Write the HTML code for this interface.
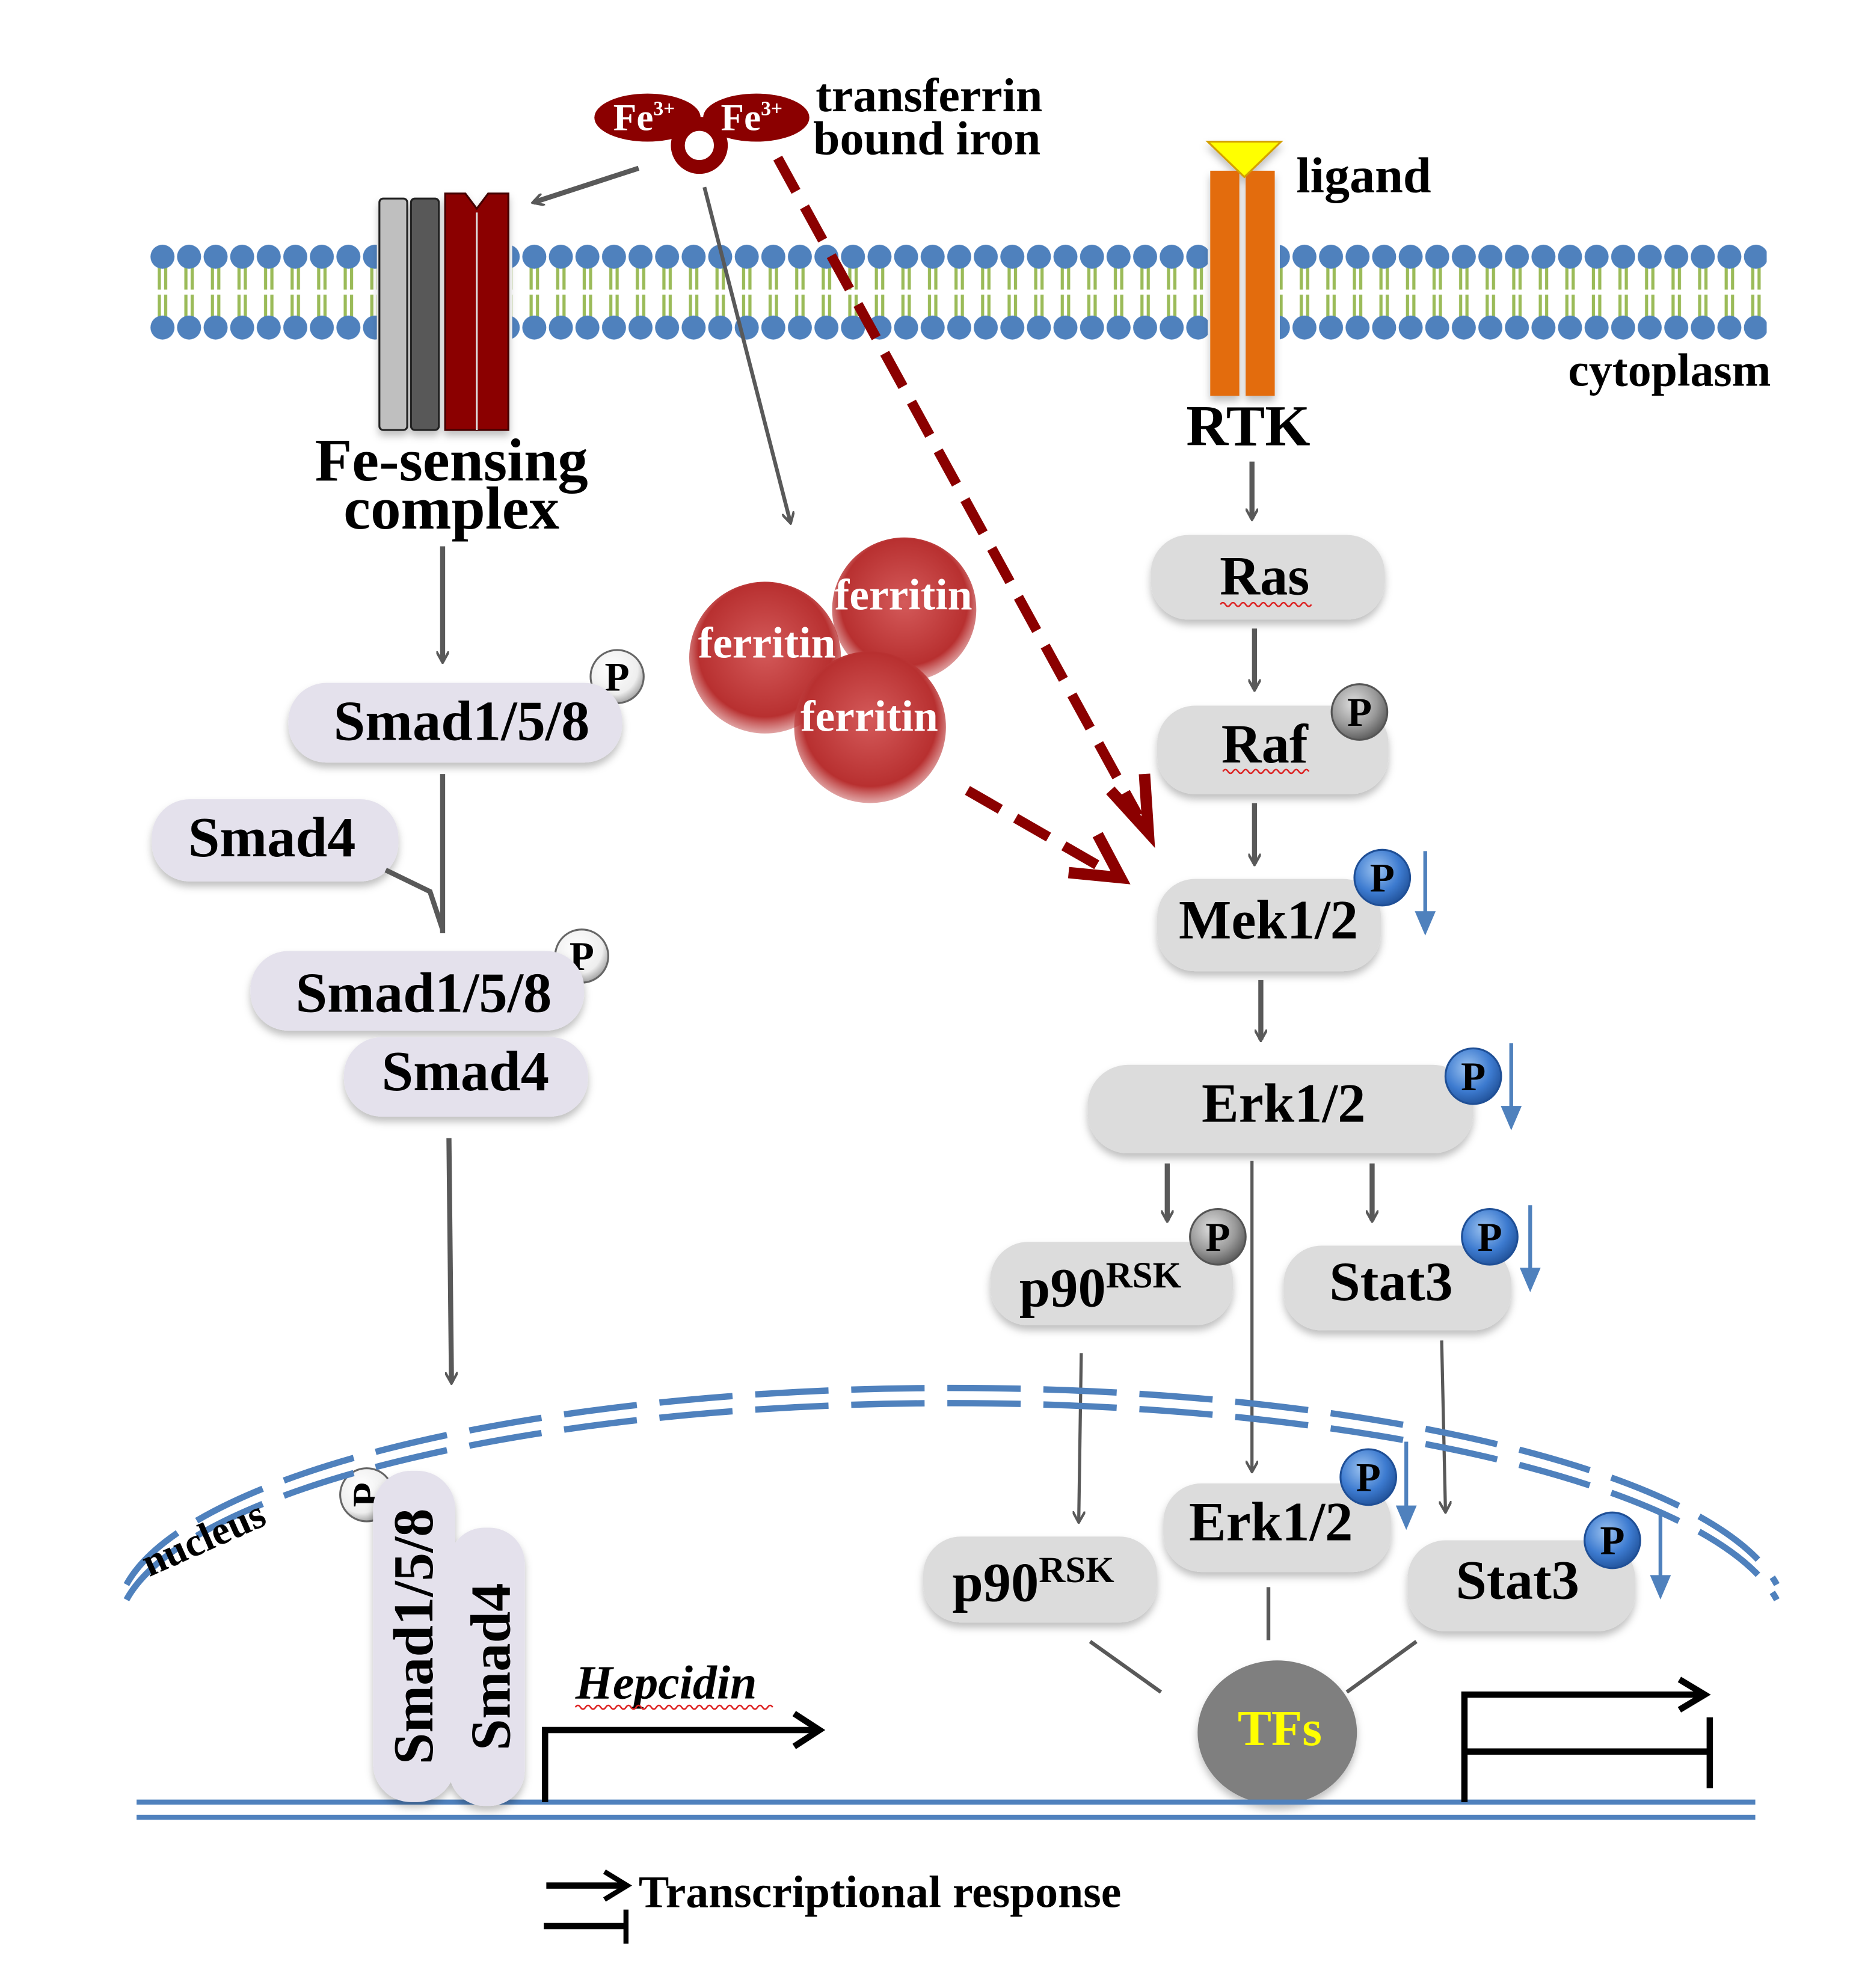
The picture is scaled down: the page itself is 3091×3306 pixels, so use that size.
<!DOCTYPE html>
<html><head><meta charset="utf-8"><style>
html,body{margin:0;padding:0;background:#fff;}
svg{display:block;}
text{font-family:"Liberation Serif",serif;font-weight:bold;}
</style></head><body>
<svg width="3091" height="3306" viewBox="0 0 1470 1572" preserveAspectRatio="none" xmlns="http://www.w3.org/2000/svg">
<defs>
<pattern id="mem" x="118" y="193" width="21" height="76" patternUnits="userSpaceOnUse">
<line x1="8" y1="18" x2="8" y2="36" stroke="#9bbb59" stroke-width="2.5"/>
<line x1="13" y1="18" x2="13" y2="36" stroke="#9bbb59" stroke-width="2.5"/>
<line x1="8" y1="40" x2="8" y2="58" stroke="#9bbb59" stroke-width="2.5"/>
<line x1="13" y1="40" x2="13" y2="58" stroke="#9bbb59" stroke-width="2.5"/>
<circle cx="10.5" cy="10" r="9.5" fill="#4f81bd"/>
<circle cx="10.5" cy="66" r="9.5" fill="#4f81bd"/>
</pattern>
<radialGradient id="pb" cx="0.4" cy="0.35" r="0.7"><stop offset="0" stop-color="#9cc3f0"/><stop offset="0.6" stop-color="#3d7bd0"/><stop offset="1" stop-color="#1f4f96"/></radialGradient>
<radialGradient id="pg" cx="0.4" cy="0.35" r="0.7"><stop offset="0" stop-color="#e0e0e0"/><stop offset="0.6" stop-color="#999"/><stop offset="1" stop-color="#555"/></radialGradient>
<radialGradient id="pw" cx="0.4" cy="0.35" r="0.7"><stop offset="0" stop-color="#fff"/><stop offset="0.7" stop-color="#eee"/><stop offset="1" stop-color="#999"/></radialGradient>
<radialGradient id="fer" cx="0.5" cy="0.45" r="0.55"><stop offset="0" stop-color="#d45a5a"/><stop offset="0.8" stop-color="#b83030"/><stop offset="1" stop-color="#c24a4a" stop-opacity="0.5"/></radialGradient>
<filter id="sh" x="-20%" y="-20%" width="140%" height="150%"><feDropShadow dx="0" dy="4" stdDeviation="3" flood-color="#000" flood-opacity="0.25"/></filter>
<marker id="ag" markerWidth="10" markerHeight="10" refX="8" refY="5" orient="auto" markerUnits="userSpaceOnUse" viewBox="0 0 10 10"><path d="M0,0 L9,5 L0,10" fill="none" stroke="#595959" stroke-width="2"/></marker>
</defs>

<rect x="118" y="193" width="180" height="76" fill="url(#mem)"/>
<rect x="405" y="193" width="550" height="76" fill="url(#mem)"/>
<rect x="1012" y="193" width="385" height="76" fill="url(#mem)"/>

<g filter="url(#sh)">
<rect x="300" y="157" width="22" height="183" rx="3" fill="#bfbfbf" stroke="#222" stroke-width="1.5"/>
<rect x="325" y="157" width="22" height="183" rx="3" fill="#595959" stroke="#222" stroke-width="1.5"/>
<path d="M352,153 L368,153 L377,165 L386,153 L402,153 L402,340 L352,340 Z" fill="#8b0000" stroke="#400" stroke-width="1.5"/>
<line x1="377" y1="168" x2="377" y2="340" stroke="#ddd" stroke-width="1.5"/>
</g>
<text x="357" y="380" font-size="48" text-anchor="middle">Fe-sensing</text>
<text x="357" y="418" font-size="48" text-anchor="middle">complex</text>

<circle cx="553" cy="115" r="17" fill="none" stroke="#8b0000" stroke-width="11"/>
<ellipse cx="512" cy="93" rx="42" ry="19" fill="#8b0000"/>
<ellipse cx="598" cy="93" rx="42" ry="19" fill="#8b0000"/>
<text x="485" y="103" font-size="30" fill="#fff" font-weight="normal">Fe<tspan font-size="16" dy="-12">3+</tspan></text>
<text x="570" y="103" font-size="30" fill="#fff" font-weight="normal">Fe<tspan font-size="16" dy="-12">3+</tspan></text>
<text x="645" y="88" font-size="38">transferrin</text>
<text x="643" y="122" font-size="38">bound iron</text>

<line x1="505" y1="133" x2="422" y2="160" stroke="#595959" stroke-width="4" marker-end="url(#ag)"/>
<line x1="557" y1="148" x2="625" y2="413" stroke="#595959" stroke-width="3" marker-end="url(#ag)"/>

<circle cx="605" cy="520" r="60" fill="url(#fer)"/>
<circle cx="715" cy="482" r="57" fill="url(#fer)"/>
<circle cx="688" cy="575" r="60" fill="url(#fer)"/>
<text x="660" y="482" font-size="35" fill="#fff">ferritin</text>
<text x="552" y="520" font-size="35" fill="#fff">ferritin</text>
<text x="633" y="578" font-size="35" fill="#fff">ferritin</text>

<line x1="615" y1="125" x2="900" y2="645" stroke="#8b0000" stroke-width="8" stroke-dasharray="30,14"/>
<path d="M878,625 L908,658 L905,612" fill="none" stroke="#8b0000" stroke-width="9"/>
<line x1="765" y1="625" x2="878" y2="690" stroke="#8b0000" stroke-width="8" stroke-dasharray="30,14"/>
<path d="M845,690 L886,694 L868,660" fill="none" stroke="#8b0000" stroke-width="9"/>

<g filter="url(#sh)">
<rect x="957" y="135" width="23" height="178" fill="#e36c0a"/>
<rect x="985" y="135" width="23" height="178" fill="#e36c0a"/>
<path d="M955,112 L1013,112 L984,140 Z" fill="#ffff00" stroke="#d4a000" stroke-width="1.5"/>
</g>
<text x="1025" y="152" font-size="40">ligand</text>
<text x="987" y="352" font-size="46" text-anchor="middle">RTK</text>
<text x="1240" y="305" font-size="37">cytoplasm</text>

<g filter="url(#sh)" fill="#dcdcdc">
<rect x="910" y="423" width="185" height="67" rx="30"/>
<rect x="915" y="558" width="183" height="70" rx="30"/>
<rect x="915" y="695" width="177" height="73" rx="30"/>
<rect x="860" y="842" width="305" height="70" rx="32"/>
<rect x="783" y="982" width="192" height="66" rx="30"/>
<rect x="1015" y="985" width="180" height="67" rx="30"/>
<rect x="920" y="1173" width="180" height="70" rx="30"/>
<rect x="730" y="1215" width="185" height="68" rx="30"/>
<rect x="1113" y="1218" width="180" height="72" rx="30"/>
</g>
<g font-size="44">
<text x="1000" y="470" text-anchor="middle">Ras</text>
<text x="1000" y="603" text-anchor="middle">Raf</text>
<text x="1003" y="742" text-anchor="middle">Mek1/2</text>
<text x="1015" y="887" text-anchor="middle">Erk1/2</text>
<text x="806" y="1033">p90<tspan font-size="29" dy="-15">RSK</tspan></text>
<text x="1100" y="1028" text-anchor="middle">Stat3</text>
<text x="1005" y="1218" text-anchor="middle">Erk1/2</text>
<text x="753" y="1266">p90<tspan font-size="29" dy="-15">RSK</tspan></text>
<text x="1200" y="1264" text-anchor="middle">Stat3</text>
</g>

<path d="M965,478 q2,-3 4,0 t4,0 t4,0 t4,0 t4,0 t4,0 t4,0 t4,0 t4,0 t4,0 t4,0 t4,0 t4,0 t4,0 t4,0 t4,0 t4,0 t4,0" fill="none" stroke="#d22" stroke-width="1.2"/>
<path d="M967,610 q2,-3 4,0 t4,0 t4,0 t4,0 t4,0 t4,0 t4,0 t4,0 t4,0 t4,0 t4,0 t4,0 t4,0 t4,0 t4,0 t4,0 t4,0" fill="none" stroke="#d22" stroke-width="1.2"/>

<g stroke="#595959" stroke-width="4" marker-end="url(#ag)" fill="none">
<line x1="990" y1="365" x2="990" y2="410"/>
<line x1="992" y1="497" x2="992" y2="545"/>
<line x1="992" y1="635" x2="992" y2="683"/>
<line x1="997" y1="775" x2="997" y2="822"/>
<line x1="923" y1="920" x2="923" y2="965"/>
<line x1="1085" y1="920" x2="1085" y2="965"/>
</g>
<g stroke="#595959" stroke-width="2.5" marker-end="url(#ag)" fill="none">
<line x1="990" y1="918" x2="990" y2="1163"/>
<line x1="855" y1="1070" x2="853" y2="1203"/>
<line x1="1140" y1="1060" x2="1143" y2="1195"/>
</g>

<circle cx="1075" cy="563" r="22" fill="url(#pg)" stroke="#555" stroke-width="1.5"/>
<circle cx="1093" cy="694" r="22" fill="url(#pb)" stroke="#1f4f96" stroke-width="1.5"/>
<circle cx="1165" cy="851" r="22" fill="url(#pb)" stroke="#1f4f96" stroke-width="1.5"/>
<circle cx="963" cy="978" r="22" fill="url(#pg)" stroke="#555" stroke-width="1.5"/>
<circle cx="1178" cy="978" r="22" fill="url(#pb)" stroke="#1f4f96" stroke-width="1.5"/>
<circle cx="1082" cy="1168" r="22" fill="url(#pb)" stroke="#1f4f96" stroke-width="1.5"/>
<circle cx="1275" cy="1218" r="22" fill="url(#pb)" stroke="#1f4f96" stroke-width="1.5"/>
<circle cx="488" cy="535" r="21" fill="url(#pw)" stroke="#666" stroke-width="1.5"/>
<circle cx="460" cy="756" r="21" fill="url(#pw)" stroke="#666" stroke-width="1.5"/>
<circle cx="290" cy="1182" r="21" fill="url(#pw)" stroke="#666" stroke-width="1.5"/>
<g font-size="32" font-weight="normal" text-anchor="middle">
<text x="1075" y="574">P</text><text x="1093" y="705">P</text><text x="1165" y="862">P</text>
<text x="963" y="989">P</text><text x="1178" y="989">P</text><text x="1082" y="1179">P</text>
<text x="1275" y="1229">P</text><text x="488" y="546">P</text><text x="460" y="767">P</text>
<text x="290" y="1193" transform="rotate(-90 290 1182)">P</text>
</g>
<g stroke="#4f81bd" stroke-width="3" fill="#4f81bd">
<line x1="1127" y1="673" x2="1127" y2="727"/><path d="M1121,722 L1133,722 L1127,736 Z"/>
<line x1="1195" y1="825" x2="1195" y2="880"/><path d="M1189,876 L1201,876 L1195,890 Z"/>
<line x1="1210" y1="953" x2="1210" y2="1008"/><path d="M1204,1004 L1216,1004 L1210,1018 Z"/>
<line x1="1112" y1="1140" x2="1112" y2="1195"/><path d="M1106,1192 L1118,1192 L1112,1206 Z"/>
<line x1="1313" y1="1195" x2="1313" y2="1250"/><path d="M1307,1247 L1319,1247 L1313,1261 Z"/>
</g>

<path d="M100,1265 A660,183 0 0 1 1405,1265" fill="none" stroke="#4f81bd" stroke-width="5" stroke-dasharray="58,18"/>
<path d="M100,1265 A660,183 0 0 1 1405,1265" fill="none" stroke="#4f81bd" stroke-width="5" stroke-dasharray="58,18" transform="translate(0,-12)"/>
<text x="118" y="1247" font-size="32" transform="rotate(-24 118 1247)">nucleus</text>

<g stroke="#595959" stroke-width="3">
<line x1="862" y1="1298" x2="918" y2="1338"/>
<line x1="1003" y1="1255" x2="1003" y2="1297"/>
<line x1="1120" y1="1298" x2="1065" y2="1338"/>
</g>
<ellipse cx="1010" cy="1370" rx="63" ry="57" fill="#7f7f7f" filter="url(#sh)"/>
<text x="1012" y="1380" font-size="40" fill="#ffff00" text-anchor="middle">TFs</text>

<line x1="108" y1="1425" x2="1388" y2="1425" stroke="#4f81bd" stroke-width="4"/>
<line x1="108" y1="1437" x2="1388" y2="1437" stroke="#4f81bd" stroke-width="4"/>

<g filter="url(#sh)" fill="#e4e1ec">
<rect x="228" y="540" width="264" height="63" rx="30"/>
<rect x="120" y="632" width="195" height="65" rx="30"/>
<rect x="198" y="752" width="264" height="63" rx="30"/>
<rect x="272" y="820" width="193" height="63" rx="30"/>
<rect x="355" y="1208" width="60" height="220" rx="28"/>
<rect x="295" y="1163" width="65" height="262" rx="30"/>
</g>
<g font-size="45">
<text x="365" y="585" text-anchor="middle">Smad1/5/8</text>
<text x="215" y="677" text-anchor="middle">Smad4</text>
<text x="335" y="800" text-anchor="middle">Smad1/5/8</text>
<text x="368" y="862" text-anchor="middle">Smad4</text>
<text transform="translate(342,1294) rotate(-90)" text-anchor="middle">Smad1/5/8</text>
<text transform="translate(403,1318) rotate(-90)" text-anchor="middle">Smad4</text>
</g>
<g stroke="#595959" stroke-width="4" fill="none">
<line x1="350" y1="432" x2="350" y2="523" marker-end="url(#ag)"/>
<line x1="350" y1="612" x2="350" y2="738"/>
<path d="M305,688 L340,705 L350,735"/>
<line x1="355" y1="900" x2="357" y2="1093" marker-end="url(#ag)"/>
</g>

<text x="455" y="1343" font-size="38" font-style="italic">Hepcidin</text>
<path d="M455,1350 q2,-3 4,0 t4,0 t4,0 t4,0 t4,0 t4,0 t4,0 t4,0 t4,0 t4,0 t4,0 t4,0 t4,0 t4,0 t4,0 t4,0 t4,0 t4,0 t4,0 t4,0 t4,0 t4,0 t4,0 t4,0 t4,0 t4,0 t4,0 t4,0 t4,0 t4,0 t4,0 t4,0 t4,0 t4,0 t4,0 t4,0 t4,0 t4,0 t4,0" fill="none" stroke="#d22" stroke-width="1.2"/>
<path d="M431,1425 L431,1368 L645,1368" fill="none" stroke="#000" stroke-width="5"/>
<path d="M628,1355 L648,1368 L628,1381" fill="none" stroke="#000" stroke-width="5"/>

<path d="M1158,1425 L1158,1340 L1345,1340" fill="none" stroke="#000" stroke-width="5"/>
<path d="M1328,1328 L1348,1340 L1328,1352" fill="none" stroke="#000" stroke-width="5"/>
<line x1="1158" y1="1385" x2="1352" y2="1385" stroke="#000" stroke-width="5"/>
<line x1="1352" y1="1358" x2="1352" y2="1414" stroke="#000" stroke-width="5"/>

<path d="M432,1491 L493,1491" stroke="#000" stroke-width="5"/>
<path d="M478,1480 L496,1491 L478,1502" fill="none" stroke="#000" stroke-width="4"/>
<line x1="430" y1="1523" x2="496" y2="1523" stroke="#000" stroke-width="5"/>
<line x1="495" y1="1510" x2="495" y2="1537" stroke="#000" stroke-width="4"/>
<text x="505" y="1508" font-size="36">Transcriptional response</text>
</svg>
</body></html>
